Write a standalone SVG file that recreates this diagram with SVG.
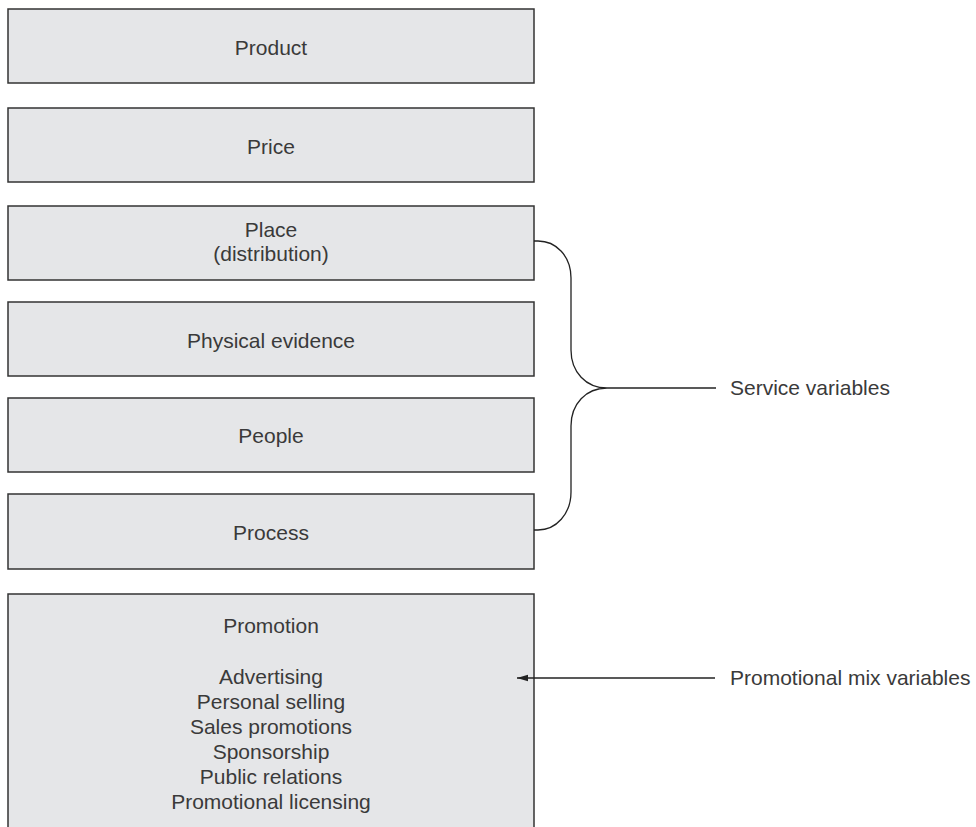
<svg xmlns="http://www.w3.org/2000/svg" width="976" height="827" viewBox="0 0 976 827">
  <style>
    .box { fill: #e5e6e8; stroke: #333; stroke-width: 1.5; }
    .lbl { font-family: "Liberation Sans", Arial, sans-serif; font-size: 21px; fill: #3a3a3a; text-anchor: middle; }
    .side { font-family: "Liberation Sans", Arial, sans-serif; font-size: 21px; fill: #3a3a3a; }
    .wire { fill: none; stroke: #222; stroke-width: 1.3; }
  </style>
  <defs>
    <marker id="head" markerWidth="12" markerHeight="8" refX="11" refY="4" orient="auto" markerUnits="userSpaceOnUse">
      <path d="M0,0.8 L11,4 L0,7.2 Z" fill="#222"/>
    </marker>
  </defs>
  <rect width="976" height="827" fill="#fff"/>

  <g id="product">
    <rect class="box" x="8" y="9" width="526" height="74"/>
    <text class="lbl" x="271" y="55">Product</text>
  </g>
  <g id="price">
    <rect class="box" x="8" y="108" width="526" height="74"/>
    <text class="lbl" x="271" y="154">Price</text>
  </g>
  <g id="place">
    <rect class="box" x="8" y="206" width="526" height="74"/>
    <text class="lbl" x="271" y="237">Place</text>
    <text class="lbl" x="271" y="261">(distribution)</text>
  </g>
  <g id="physical-evidence">
    <rect class="box" x="8" y="302" width="526" height="74"/>
    <text class="lbl" x="271" y="348">Physical evidence</text>
  </g>
  <g id="people">
    <rect class="box" x="8" y="398" width="526" height="74"/>
    <text class="lbl" x="271" y="443">People</text>
  </g>
  <g id="process">
    <rect class="box" x="8" y="494" width="526" height="75"/>
    <text class="lbl" x="271" y="540">Process</text>
  </g>
  <g id="promotion">
    <rect class="box" x="8" y="594" width="526" height="245"/>
    <text class="lbl" x="271" y="633">Promotion</text>
    <text class="lbl" x="271" y="684">Advertising</text>
    <text class="lbl" x="271" y="709">Personal selling</text>
    <text class="lbl" x="271" y="734">Sales promotions</text>
    <text class="lbl" x="271" y="759">Sponsorship</text>
    <text class="lbl" x="271" y="784">Public relations</text>
    <text class="lbl" x="271" y="809">Promotional licensing</text>
  </g>

  <g id="connectors">
    <!-- brace spanning Place .. Process -->
    <path class="wire" d="M534,241 H538 C556,241 571,256 571,278 V350 C571,372 586,388 607,388 C586,388 571,404 571,426 V492 C571,514 556,530 538,530 H534"/>
    <path class="wire" d="M607,388 H716"/>
    <!-- arrow into the promotion box -->
    <path class="wire" d="M715,678 H517" marker-end="url(#head)"/>
  </g>

  <g id="labels">
    <text class="side" x="730" y="395">Service variables</text>
    <text class="side" x="730" y="685">Promotional mix variables</text>
  </g>
</svg>
